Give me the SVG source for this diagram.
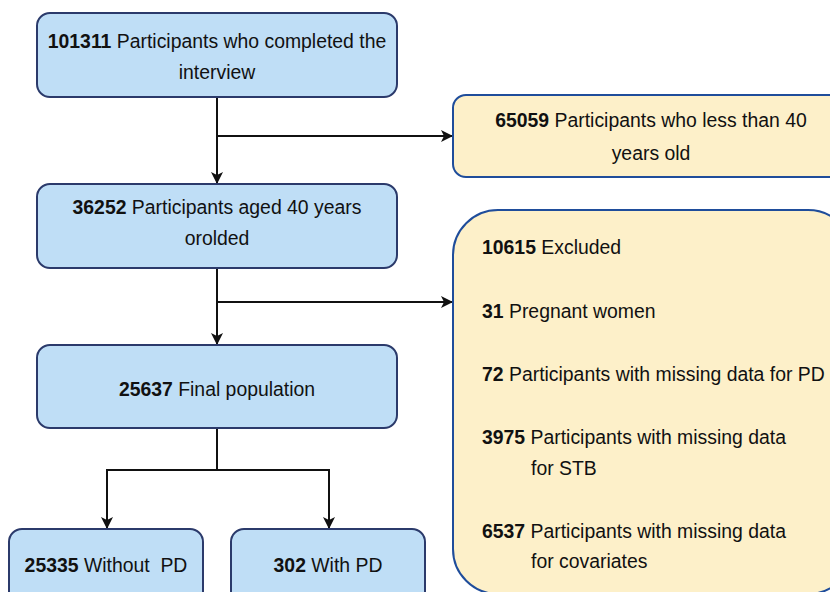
<svg xmlns="http://www.w3.org/2000/svg" width="830" height="592" viewBox="0 0 830 592">
<defs>
<style>
.blue{fill:#bfdef6;stroke:#2b3a6b;stroke-width:2}
.yel{fill:#fdf0c9;stroke:#1f4d9b;stroke-width:2}
text{font-family:"Liberation Sans",Arial,sans-serif;font-size:19.4px;fill:#111}
.c{text-anchor:middle}
.b{font-weight:bold}
.ln{fill:none;stroke:#111;stroke-width:2}
</style>
<marker id="ah" viewBox="0 0 12 12" refX="11" refY="6" markerWidth="12" markerHeight="12" markerUnits="userSpaceOnUse" orient="auto">
<path d="M0,0 L12,6 L0,12 L3,6 Z" fill="#111"/>
</marker>
</defs>
<g id="connectors">
<path class="ln" d="M217,97 V183" marker-end="url(#ah)"/>
<path class="ln" d="M217,136 H452" marker-end="url(#ah)"/>
<path class="ln" d="M217,268 V344" marker-end="url(#ah)"/>
<path class="ln" d="M217,302 H452" marker-end="url(#ah)"/>
<path class="ln" d="M217,428 V470"/>
<path class="ln" d="M107,470 H329"/>
<path class="ln" d="M107,469 V528" marker-end="url(#ah)"/>
<path class="ln" d="M329,469 V528" marker-end="url(#ah)"/>
</g>
<g id="n1">
<rect class="blue" x="37" y="13" width="360" height="84" rx="13"/>
<text class="c" x="217" y="48"><tspan class="b">101311</tspan> Participants who completed the</text>
<text class="c" x="217" y="79">interview</text>
</g>
<g id="n2">
<rect class="yel" x="453" y="95" width="400" height="82" rx="13"/>
<text class="c" x="651" y="127"><tspan class="b">65059</tspan> Participants who less than 40</text>
<text class="c" x="651" y="160">years old</text>
</g>
<g id="n3">
<rect class="blue" x="37" y="184" width="360" height="84" rx="13"/>
<text class="c" x="217" y="214"><tspan class="b">36252</tspan> Participants aged 40 years</text>
<text class="c" x="217" y="245">orolded</text>
</g>
<g id="n4">
<rect class="blue" x="37" y="345" width="360" height="83" rx="13"/>
<text class="c" x="217" y="396"><tspan class="b">25637</tspan> Final population</text>
</g>
<g id="n5">
<rect class="yel" x="453" y="210" width="400" height="384" rx="45"/>
<text x="482" y="254"><tspan class="b">10615</tspan> Excluded</text>
<text x="482" y="318"><tspan class="b">31</tspan> Pregnant women</text>
<text x="482" y="381"><tspan class="b">72</tspan> Participants with missing data for PD</text>
<text x="482" y="444"><tspan class="b">3975</tspan> Participants with missing data</text>
<text x="531" y="475">for STB</text>
<text x="482" y="538"><tspan class="b">6537</tspan> Participants with missing data</text>
<text x="531" y="568">for covariates</text>
</g>
<g id="n6">
<rect class="blue" x="9" y="529" width="194" height="80" rx="13"/>
<text class="c" x="106" y="572" xml:space="preserve"><tspan class="b">25335</tspan> Without  PD</text>
</g>
<g id="n7">
<rect class="blue" x="231" y="529" width="194" height="80" rx="13"/>
<text class="c" x="328" y="572"><tspan class="b">302</tspan> With PD</text>
</g>
</svg>
